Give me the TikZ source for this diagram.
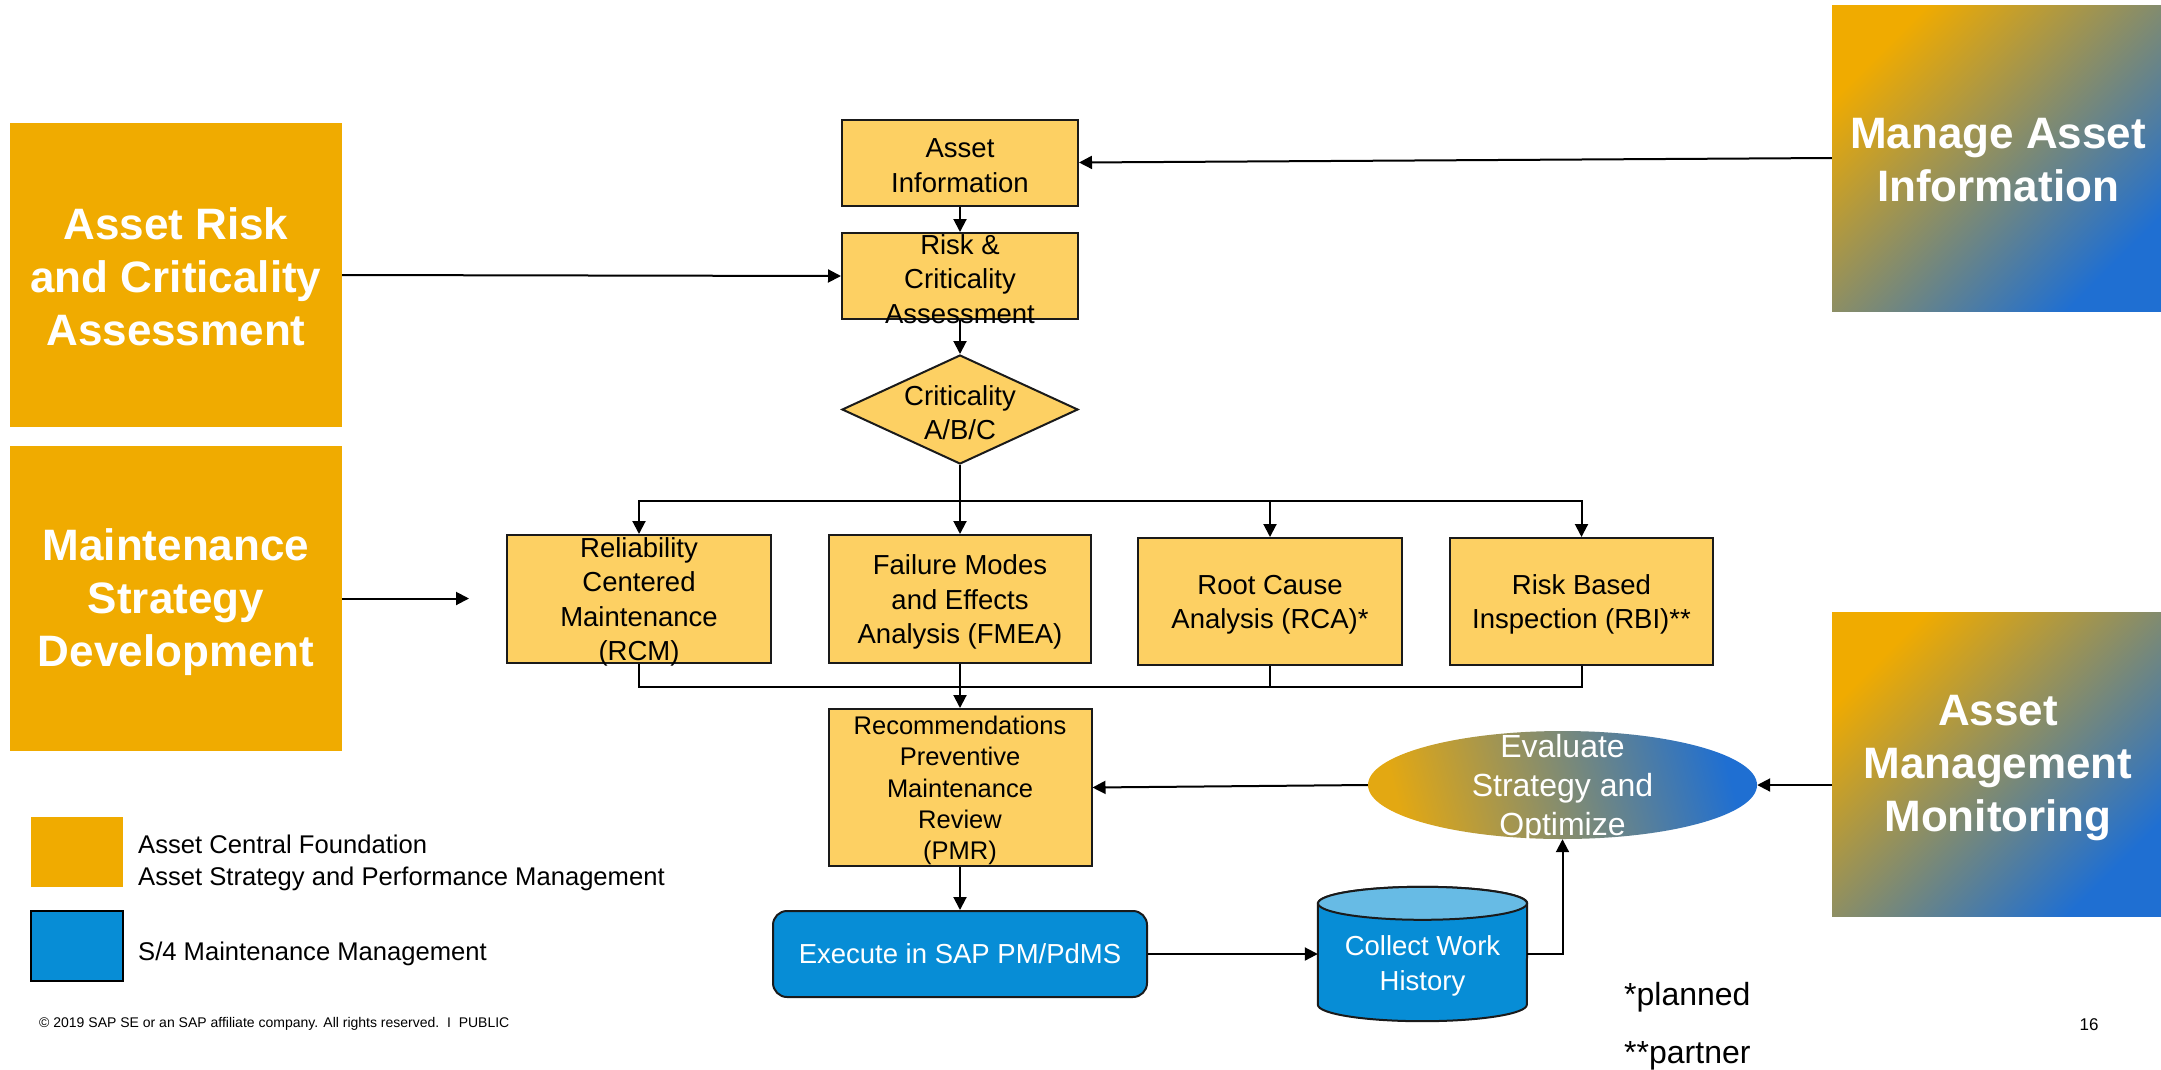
\documentclass[tikz,border=0pt]{standalone}
\usepackage{fontspec}
\setmainfont{Liberation Sans}
\usetikzlibrary{arrows.meta,shapes.geometric,calc}
\definecolor{sapgold}{HTML}{F0AB00}
\definecolor{flowfill}{HTML}{FDD063}
\definecolor{sapblue}{HTML}{078DD6}
\definecolor{cyltop}{HTML}{67BBE5}
\definecolor{gradblue}{HTML}{1F6FD2}
\definecolor{ellorange}{HTML}{E3A812}
\definecolor{edgegray}{HTML}{1A1A1A}
\newcommand{\ftFlow}{\fontsize{27.5}{34.5}\selectfont}
\newcommand{\ftPmr}{\fontsize{25.5}{31.2}\selectfont}
\newcommand{\ftBig}{\bfseries\fontsize{44}{53}\selectfont}
\newcommand{\ftEval}{\fontsize{32}{39}\selectfont}
\newcommand{\ftLeg}{\fontsize{25.6}{31}\selectfont}
\newcommand{\ftCopy}{\fontsize{14}{17}\selectfont}
\newcommand{\ftNote}{\fontsize{32}{38}\selectfont}
\newcommand{\ftPage}{\fontsize{17}{20}\selectfont}
\begin{document}
\begin{tikzpicture}[x=1pt,y=-1pt,
  flowbox/.style={draw=edgegray, line width=2pt, fill=flowfill, inner sep=0pt},
  flowtxt/.style={font=\ftFlow, align=center, inner sep=0pt, yshift=-3pt},
  goldbox/.style={fill=sapgold, inner sep=0pt},
  gradbox/.style={top color=sapgold, bottom color=gradblue, shading angle=45, inner sep=0pt},
  bigtxt/.style={font=\ftBig, text=white, align=center, inner sep=0pt},
  arr/.style={line width=2pt, -{Triangle[length=13pt,width=13pt]}},
  conn/.style={line width=2pt},
]
\fill[white] (0,0) rectangle (2161,1069);
\useasboundingbox (0,0) rectangle (2161,1069);

% side boxes
\node[goldbox, minimum width=332, minimum height=304] (ar) at (176,275) {};
\node[bigtxt] (artxt) at (176,277) {Asset Risk\\and Criticality\\Assessment};
\node[goldbox, minimum width=332, minimum height=305] (msd) at (176,598.5) {};
\node[bigtxt] (msdtxt) at (176,602) {Maintenance\\Strategy\\Development};
\node[gradbox, minimum width=329, minimum height=306] (mai) at (1996.5,158) {};
\node[bigtxt] (maitxt) at (1998,160) {Manage Asset\\Information};
\node[gradbox, minimum width=329, minimum height=304] (amm) at (1996.5,764) {};
\node[bigtxt] (ammtxt) at (1998,768) {Asset\\Management\\Monitoring};

% flow boxes
\node[flowbox, minimum width=236, minimum height=86] (ai) at (960,162.5) {};
\node[flowtxt] (aitxt) at (ai) {Asset\\Information};
\node[flowbox, minimum width=236, minimum height=86] (risk) at (960,276) {};
\node[flowtxt] (risktxt) at (risk) {Risk \&\\Criticality\\Assessment};
\node[flowbox, diamond, minimum width=236, minimum height=109] (crit) at (960,409.5) {};
\node[flowtxt] (crittxt) at (crit) {Criticality\\A/B/C};

\node[flowbox, minimum width=264, minimum height=128] (rcm) at (639,599) {};
\node[flowtxt] (rcmtxt) at (rcm) {Reliability\\Centered\\Maintenance\\(RCM)};
\node[flowbox, minimum width=262, minimum height=128] (fmea) at (960,599) {};
\node[flowtxt] (fmeatxt) at (fmea) {Failure Modes\\and Effects\\Analysis (FMEA)};
\node[flowbox, minimum width=264, minimum height=127] (rca) at (1270,601.5) {};
\node[flowtxt] (rcatxt) at (rca) {Root Cause\\Analysis (RCA)*};
\node[flowbox, minimum width=263, minimum height=127] (rbi) at (1581.5,601.5) {};
\node[flowtxt] (rbitxt) at (rbi) {Risk Based\\Inspection (RBI)**};

\node[flowbox, minimum width=263, minimum height=157] (pmr) at (960,787.5) {};
\node[flowtxt, font=\ftPmr] (pmrtxt) at (pmr) {Recommendations\\Preventive\\Maintenance\\Review\\(PMR)};

\node[draw=edgegray, line width=2pt, fill=sapblue, rounded corners=14pt, minimum width=374, minimum height=86, inner sep=0pt, font=\ftFlow, text=white] (exe) at (960,954) {Execute in SAP PM/PdMS};

% cylinder
\node[inner sep=0pt, minimum width=209, minimum height=134] (hist) at (1422.5,954) {};
\filldraw[fill=sapblue, draw=edgegray, line width=2pt]
  ([yshift=-16.5pt]hist.north west) -- ([yshift=16.5pt]hist.south west)
  arc[start angle=180, end angle=360, x radius=104.5pt, y radius=16.5pt]
  -- ([yshift=-16.5pt]hist.north east)
  arc[start angle=0, end angle=180, x radius=104.5pt, y radius=16.5pt] -- cycle;
\filldraw[fill=cyltop, draw=edgegray, line width=2pt] ([yshift=-16.5pt]hist.north) ellipse[x radius=104.5pt, y radius=16.5pt];
\node[flowtxt, text=white] (histtxt) at ([yshift=-9pt]hist.center) {Collect Work\\History};

% ellipse
\node[ellipse, top color=ellorange, bottom color=gradblue, shading angle=105, minimum width=389, minimum height=108, inner sep=0pt] (ell) at (1562.5,785) {};
\node[flowtxt, font=\ftEval, text=white] (elltxt) at (ell) {Evaluate\\Strategy and\\Optimize};

% connectors
\draw[arr] (mai.west) -- (ai.east);
\draw[arr] (ai.south) -- (risk.north);
\draw[arr] (ar.east) -- (risk.west);
\draw[arr] (risk.south) -- (crit.north);
\draw[arr] (crit.south) -- (fmea.north);
\coordinate (brn) at (960,501);
\draw[arr] (brn) -| (rcm.north);
\draw[arr] (brn) -| (rca.north);
\draw[arr] (brn) -| (rbi.north);
\coordinate (msdend) at (469,598.5);
\draw[arr] (msd.east) -- (msdend);
\coordinate (mrg) at (960,687);
\draw[conn] (rcm.south) |- (mrg);
\draw[conn] (rca.south) |- (mrg);
\draw[conn] (rbi.south) |- (mrg);
\draw[arr] (fmea.south) -- (pmr.north);
\draw[arr] (ell.west) -- (pmr.east);
\draw[arr] (amm.west |- ell.east) -- (ell.east);
\draw[arr] (pmr.south) -- (exe.north);
\draw[arr] (exe.east) -- (hist.west);
\draw[arr] (hist.east) -| (ell.south);

% legend
\node[fill=sapgold, minimum width=92, minimum height=70, inner sep=0pt] (lega) at (77,852) {};
\node[fill=sapblue, draw=black, line width=2pt, minimum width=92, minimum height=70, inner sep=0pt] (legb) at (77,946) {};
\node[font=\ftLeg, anchor=base west, inner sep=0pt] (legat1) at (138,853) {Asset Central Foundation};
\node[font=\ftLeg, anchor=base west, inner sep=0pt] (legat2) at (138,885) {Asset Strategy and Performance Management};
\node[font=\ftLeg, anchor=base west, inner sep=0pt] (legbt) at (138,960) {S/4 Maintenance Management};

% footer
\node[font=\ftCopy, anchor=base west, inner sep=0pt] (copy) at (39,1027) {© 2019 SAP SE or an SAP affiliate company. All rights reserved.\ \ I\ \ PUBLIC};
\node[font=\ftPage, anchor=base, inner sep=0pt] (page) at (2089,1030) {16};
\node[font=\ftNote, anchor=base west, inner sep=0pt] (note1) at (1624,1005) {*planned};
\node[font=\ftNote, anchor=base west, inner sep=0pt] (note2) at (1624,1063) {**partner};
\end{tikzpicture}
\end{document}
